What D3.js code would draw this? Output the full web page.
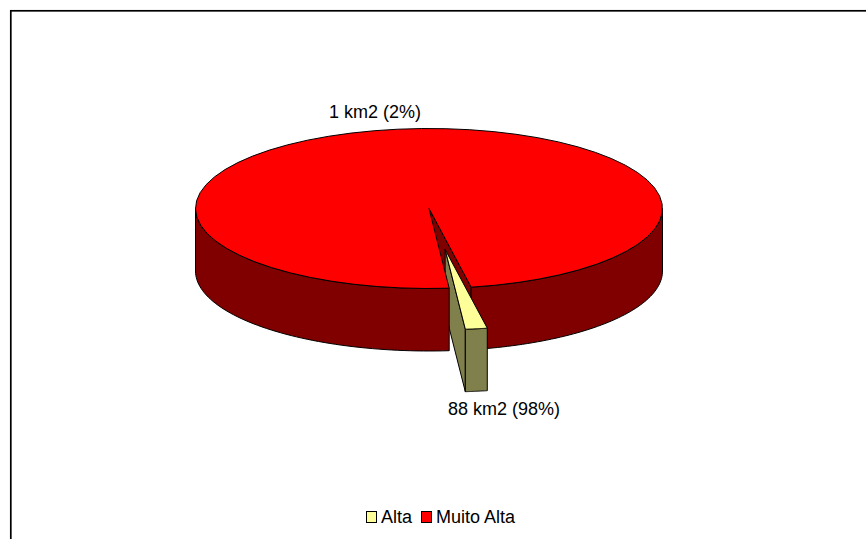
<!DOCTYPE html>
<html>
<head>
<meta charset="utf-8">
<script src="https://cdn.jsdelivr.net/npm/d3@7"></script>
<style>
  html, body { margin: 0; padding: 0; background: #fff; overflow: hidden; }
  svg { display: block; }
  text { font-family: "Liberation Sans", Arial, sans-serif; font-size: 18px; fill: #000; }
</style>
</head>
<body>
<script>
// Area per susceptibility class, in km2
const categories = ["Alta", "Muito Alta"];
const areas = [1.35, 88];

const topColors = ["#FFFF99", "#FF0000"];
const wallColors = ["#80804C", "#800000"];

const width = 866, height = 539;
const cx = 429, cy = 208.5, rx = 233.5, ry = 80, depth = 62.5;
const explode = 0.517;
const rad = Math.PI / 180;

const svg = d3.select("body").append("svg").attr("width", width).attr("height", height);

svg.append("rect")
  .attr("x", 10.8).attr("y", 10.8).attr("width", width).attr("height", height)
  .attr("fill", "#fff").attr("stroke", "#000").attr("stroke-width", 1.7);

// Pie layout, turned so the thin slice faces the viewer
const pie = d3.pie().sort(null).startAngle(169.6 * rad).endAngle((169.6 + 360) * rad);
const slices = pie(areas);
const [small, large] = slices;

const total = d3.sum(areas);
const labelFor = v => `${d3.format(".0f")(v)} km2 (${d3.format(".0%")(v / total)})`;

// Angle to point on the tilted disc
const rim = (a, ox = 0, oy = 0, dz = 0) => [
  cx + ox + rx * Math.sin(a),
  cy + oy + dz - ry * Math.cos(a)
];
const steps = (a0, a1) => d3.range(0, 61).map(i => a0 + (a1 - a0) * i / 60);
const line = d3.line();
const closed = pts => line(pts) + "Z";

function sideWall(a0, a1, ox = 0, oy = 0) {
  const upper = steps(a0, a1).map(a => rim(a, ox, oy));
  const lower = steps(a1, a0).map(a => rim(a, ox, oy, depth));
  return closed(upper.concat(lower));
}
function cutWall(a, ox = 0, oy = 0) {
  return closed([
    [cx + ox, cy + oy], rim(a, ox, oy), rim(a, ox, oy, depth), [cx + ox, cy + oy + depth]
  ]);
}
function topFace(a0, a1, ox = 0, oy = 0) {
  return closed([[cx + ox, cy + oy]].concat(steps(a0, a1).map(a => rim(a, ox, oy))));
}
const shape = (d, fill) => svg.append("path")
  .attr("d", d).attr("fill", fill)
  .attr("stroke", "#000").attr("stroke-width", 1).attr("stroke-linejoin", "round");

// Offset of the pulled-out slice along its bisector
const mid = (small.startAngle + small.endAngle) / 2;
const ox = explode * rx * Math.sin(mid);
const oy = -explode * ry * Math.cos(mid);

// Back to front: inside of the notch and right wall, then the slice, then the rest of the disc
shape(cutWall(small.startAngle), wallColors[1]);
shape(sideWall(90 * rad, small.startAngle), wallColors[1]);

shape(cutWall(small.endAngle, ox, oy), wallColors[0]);
shape(sideWall(small.startAngle, small.endAngle, ox, oy), wallColors[0]);
shape(topFace(small.startAngle, small.endAngle, ox, oy), topColors[0]);

shape(sideWall(small.endAngle, 270 * rad), wallColors[1]);
shape(topFace(large.startAngle, large.endAngle), topColors[1]);

// Value labels
svg.append("text").attr("x", 375).attr("y", 118).attr("text-anchor", "middle").text(labelFor(areas[0]));
svg.append("text").attr("x", 504).attr("y", 415).attr("text-anchor", "middle").text(labelFor(areas[1]));

// Legend
const legendX = [366, 421];
categories.forEach((c, i) => {
  svg.append("rect")
    .attr("x", legendX[i] + 0.5).attr("y", 511.5).attr("width", 10).attr("height", 11)
    .attr("fill", topColors[i]).attr("stroke", "#000").attr("stroke-width", 1);
  svg.append("text").attr("x", legendX[i] + 15).attr("y", 523).text(c);
});
</script>
</body>
</html>
